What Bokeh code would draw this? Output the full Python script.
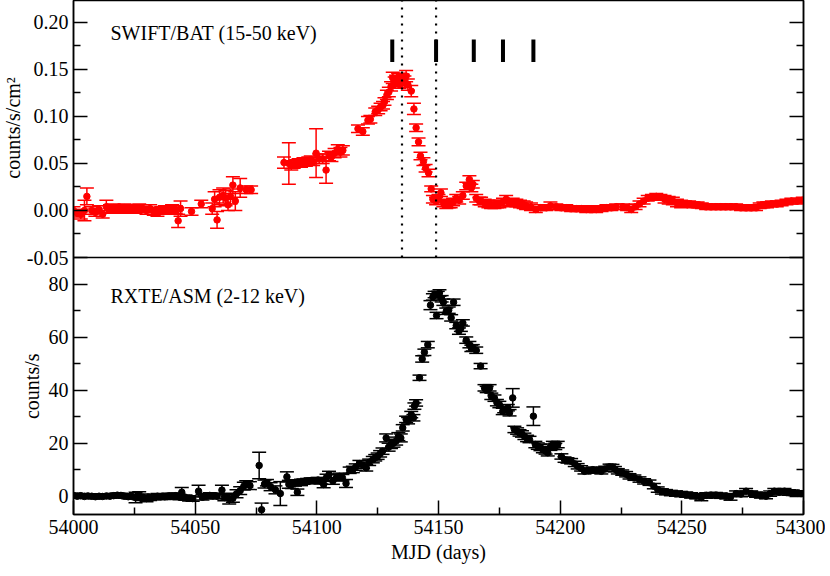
from math import pi
from bokeh.plotting import figure
from bokeh.models import (Range1d, FixedTicker, LinearAxis, Whisker, TeeHead,
                          ColumnDataSource, Span, Label, CustomJSTickFormatter)
from bokeh.embed import file_html
from bokeh.resources import INLINE

FONT = "Liberation Serif"

# ---------------- SWIFT/BAT (15-50 keV) ----------------
bat_mjd = [54000, 54001.5, 54003, 54004.5, 54005.5, 54007.5, 54009, 54010.5, 54012, 54013.5,
           54015, 54016.5, 54018, 54019.5, 54021, 54022.5, 54024, 54025.5, 54027, 54028.5,
           54030, 54031.5, 54033, 54034.5, 54036, 54037.5, 54039, 54040.5, 54042, 54043,
           54044, 54048.5, 54052.5, 54057, 54058, 54059, 54060, 54061.5, 54062.5, 54063.5,
           54064.5, 54065.5, 54066.5, 54068.5, 54071, 54073,
           54086.5, 54088.5, 54089.5, 54090.5, 54091.5, 54092.5, 54093.5, 54094.5, 54095.5, 54096.5,
           54097.5, 54098.5, 54099.7, 54101, 54102.4, 54103.8, 54105, 54106, 54107.3, 54108.6,
           54109.7, 54110.7,
           54116.9, 54118.9, 54121, 54122, 54124, 54125.2, 54126.2, 54127.2, 54127.8, 54128.8,
           54129.6, 54130.5, 54131.2, 54132, 54132.6, 54133.4, 54134, 54135.3, 54136, 54136.7,
           54137.4, 54138.8, 54139.9, 54140.8, 54141.8, 54142.6, 54143.8, 54144.7, 54145.9, 54147,
           54147.7, 54149, 54150, 54151, 54152, 54153.2, 54154.2, 54155, 54156, 54157.3,
           54158.5, 54160, 54161.4, 54162.7, 54163.5, 54164.1, 54165.5, 54166.8, 54167.5, 54169,
           54170.5, 54171.6, 54173, 54174, 54175, 54176.5, 54177.8, 54179, 54180.5, 54182,
           54183.5, 54185, 54186, 54188, 54190, 54192, 54194.3, 54196, 54198.4, 54200.5,
           54202.5, 54204.5, 54206.6, 54208.7, 54210.7, 54212.7, 54214.8, 54217, 54219, 54221,
           54223, 54225.8, 54227.5, 54229.2, 54231, 54232.6, 54234.3, 54236, 54237.7, 54239.5,
           54241.2, 54242.9, 54244.6, 54246.3, 54248, 54249.7, 54251.4, 54253, 54254.8, 54256.5,
           54258.2, 54260, 54262, 54264, 54266, 54268, 54270, 54272.3, 54274.3, 54276.4,
           54278.5, 54280.5, 54282, 54283.5, 54285, 54287, 54289, 54291, 54293, 54295,
           54297.5, 54299.7]
bat_rate = [0.000, -0.003, -0.004, 0.000, 0.015, 0.000, -0.002, 0.001, -0.004, 0.004,
            0.002, 0.003, 0.001, 0.002, 0.003, 0.001, 0.002, 0.001, 0.003, 0.002,
            0.000, 0.002, -0.001, -0.002, 0.000, 0.001, 0.000, 0.002, 0.001, -0.011,
            0.002, -0.001, 0.007, 0.002, 0.012, -0.010, 0.014, 0.016, 0.013, 0.006,
            0.015, 0.027, 0.010, 0.024, 0.022, 0.022,
            0.051, 0.050, 0.048, 0.049, 0.050, 0.051, 0.050, 0.052, 0.051, 0.053,
            0.054, 0.052, 0.061, 0.055, 0.055, 0.043, 0.058, 0.057, 0.061, 0.065,
            0.062, 0.064,
            0.087, 0.084, 0.096, 0.097, 0.105, 0.107, 0.110, 0.112, 0.116, 0.123,
            0.126, 0.132, 0.141, 0.136, 0.138, 0.140, 0.136, 0.139, 0.137, 0.143,
            0.134, 0.127, 0.108, 0.088, 0.073, 0.058, 0.052, 0.045, 0.040, 0.023,
            0.012, 0.010, 0.013, 0.019, 0.008, 0.006, 0.007, 0.007, 0.009, 0.013,
            0.011, 0.016, 0.026, 0.033, 0.024, 0.028, 0.013, 0.010, 0.010, 0.008,
            0.007, 0.006, 0.006, 0.007, 0.007, 0.009, 0.012, 0.008, 0.009, 0.008,
            0.007, 0.006, 0.005, 0.004, 0.001, 0.003, 0.003, 0.005, 0.004, 0.003,
            0.003, 0.002, 0.002, 0.002, 0.001, 0.002, 0.001, 0.002, 0.003, 0.003,
            0.004, 0.004, 0.003, 0.001, 0.004, 0.007, 0.010, 0.013, 0.014, 0.015,
            0.014, 0.012, 0.011, 0.010, 0.008, 0.007, 0.007, 0.007, 0.006, 0.006,
            0.005, 0.004, 0.004, 0.004, 0.004, 0.004, 0.004, 0.004, 0.003, 0.003,
            0.003, 0.003, 0.005, 0.006, 0.006, 0.007, 0.007, 0.008, 0.009, 0.010,
            0.010, 0.011]
bat_err = [0.004, 0.004, 0.005, 0.011, 0.009, 0.004, 0.004, 0.004, 0.004, 0.007,
           0.004, 0.004, 0.004, 0.004, 0.004, 0.004, 0.004, 0.004, 0.004, 0.004,
           0.004, 0.004, 0.004, 0.004, 0.004, 0.004, 0.004, 0.004, 0.004, 0.007,
           0.008, 0.004, 0.004, 0.006, 0.008, 0.009, 0.008, 0.008, 0.008, 0.006,
           0.008, 0.009, 0.010, 0.010, 0.004, 0.004,
           0.006, 0.022, 0.005, 0.004, 0.004, 0.004, 0.004, 0.004, 0.004, 0.004,
           0.004, 0.004, 0.026, 0.005, 0.005, 0.014, 0.005, 0.005, 0.005, 0.005,
           0.005, 0.005,
           0.004, 0.004, 0.004, 0.004, 0.004, 0.004, 0.004, 0.004, 0.004, 0.005,
           0.005, 0.005, 0.006, 0.006, 0.006, 0.006, 0.006, 0.006, 0.006, 0.006,
           0.006, 0.006, 0.006, 0.004, 0.004, 0.004, 0.004, 0.004, 0.004, 0.003,
           0.004, 0.004, 0.004, 0.004, 0.004, 0.004, 0.004, 0.004, 0.004, 0.004,
           0.004, 0.004, 0.004, 0.004, 0.004, 0.004, 0.004, 0.004, 0.004, 0.004,
           0.004, 0.004, 0.004, 0.004, 0.004, 0.004, 0.004, 0.004, 0.004, 0.004,
           0.004, 0.004, 0.004, 0.004, 0.003, 0.003, 0.003, 0.004, 0.003, 0.003,
           0.003, 0.003, 0.003, 0.003, 0.003, 0.003, 0.003, 0.003, 0.003, 0.003,
           0.003, 0.003, 0.003, 0.003, 0.003, 0.003, 0.003, 0.003, 0.003, 0.003,
           0.003, 0.004, 0.004, 0.004, 0.004, 0.004, 0.003, 0.003, 0.003, 0.003,
           0.003, 0.003, 0.003, 0.003, 0.003, 0.003, 0.003, 0.003, 0.003, 0.003,
           0.003, 0.003, 0.003, 0.003, 0.003, 0.003, 0.003, 0.003, 0.003, 0.003,
           0.003, 0.003]

# ---------------- RXTE/ASM (2-12 keV) ----------------
asm_mjd = [54000, 54001.5, 54003, 54004.5, 54006, 54007.5, 54009, 54010.5, 54012, 54013.5,
           54015, 54016.5, 54018, 54019.5, 54021, 54022.5, 54024, 54025.5, 54027, 54028.5,
           54030, 54031.5, 54033, 54034.5, 54036, 54037.5, 54039, 54040.5, 54042, 54043.5,
           54044.5, 54046, 54047.5, 54049, 54051.4, 54053, 54054.5, 54056, 54057.5, 54059,
           54061, 54062, 54063, 54064, 54065.5, 54067, 54068.5, 54070, 54071, 54072.5,
           54076.3, 54077.3, 54078.5, 54079.5, 54081, 54083, 54085, 54087.7, 54088.5, 54089.7,
           54091, 54092, 54093.5, 54094.5, 54096, 54097.5, 54099, 54100.5, 54101.8, 54102.8,
           54104, 54105, 54106.6, 54108, 54109.3, 54110.5, 54112, 54113.5, 54114.8, 54116,
           54117.5, 54119, 54120.3, 54121.5, 54123, 54124, 54125, 54126, 54127, 54128.5,
           54129.5, 54130.5, 54131.5, 54132.6, 54133.5, 54134.5, 54135.3, 54136.7, 54137.5, 54138.8,
           54139.7, 54140.1, 54140.8, 54142.2, 54143.3, 54144.2, 54145.6, 54146.7, 54147.7, 54148.4,
           54149.2, 54149.7, 54150.4, 54151.3, 54152, 54153.2, 54154.2, 54155.2, 54156.2, 54157.3,
           54158.4, 54159.2, 54160, 54161.4, 54162.7, 54163.5, 54164.1, 54165.5, 54167.3, 54168.9,
           54169.8, 54171, 54171.7, 54173, 54174, 54175, 54176.4, 54177, 54178.5, 54179.2,
           54180.5, 54181.2, 54182.3, 54183.3, 54184.3, 54185.3, 54186.4, 54187.4, 54189, 54189.8,
           54190.8, 54191.9, 54192.9, 54194, 54194.9, 54196, 54197, 54198, 54199, 54200.5,
           54201.8, 54203, 54204.5, 54206, 54207.2, 54208.6, 54210, 54211.7, 54213.4, 54215,
           54216.9, 54218.5, 54220.3, 54221.5, 54222.5, 54223.7, 54225.5, 54227.1, 54228.5, 54230.5,
           54232.6, 54234.5, 54236.7, 54238.5, 54240.1, 54241.8, 54243.5, 54245.5, 54247.6, 54249.7,
           54251.8, 54253.8, 54255.9, 54258, 54260, 54262, 54264, 54266, 54268.2, 54270,
           54272.3, 54274.3, 54276.4, 54278.5, 54280.5, 54282.5, 54284.6, 54286.3, 54288, 54290,
           54292.2, 54294, 54295.6, 54297.5, 54299]
asm_rate = [0.3, 0.0, 0.2, -0.1, 0.1, 0.0, -0.2, 0.0, -0.1, 0.1,
            0.0, 0.2, 0.4, 0.3, 0.0, -0.2, -0.1, -0.5, 0.2, -0.4,
            -0.9, -0.6, -0.3, 0.0, -0.2, -0.2, 0.1, 0.0, 0.2, -0.3,
            1.5, -0.5, -0.8, -0.9, 1.9, -0.4, 0.0, 0.3, 0.1, 0.0,
            2.3, -0.5, -0.3, -0.9, -0.8, 0.9, 2.1, 3.8, 4.6, 4.0,
            11.6, -5.1, 4.6, 5.1, 3.6, 2.4, 1.0, 7.3, 4.5, 4.4,
            5.0, 1.5, 5.2, 5.5, 5.7, 5.9, 5.8, 6.1, 5.6, 4.4,
            7.1, 8.2, 5.7, 7.0, 7.5, 7.0, 4.8, 9.8, 10.1, 11.0,
            12.3, 11.7, 10.7, 12.8, 13.8, 14.5, 15.1, 16.0, 17.0, 22.0,
            18.5, 19.5, 20.0, 20.8, 22.5, 22.0, 25.8, 29.0, 28.5, 30.8,
            29.6, 34.0, 35.2, 44.7, 51.8, 54.3, 57.2, 72.1, 75.2, 76.1,
            68.2, 76.1, 76.7, 74.5, 73.2, 69.8, 70.2, 67.3, 73.2, 64.4,
            62.3, 63.4, 65.4, 58.9, 57.2, 55.8, 56.0, 55.1, 49.1, 40.9,
            40.3, 40.9, 37.7, 37.0, 35.3, 34.6, 32.0, 32.7, 33.4, 31.5,
            37.1, 25.2, 24.6, 23.9, 23.5, 22.6, 21.8, 21.4, 30.2, 19.5,
            18.9, 18.4, 17.6, 17.1, 16.4, 18.5, 19.5, 18.8, 19.5, 15.0,
            13.8, 13.5, 13.2, 12.2, 11.3, 10.5, 9.4, 9.7, 10.0, 9.8,
            9.4, 10.3, 11.1, 11.0, 10.2, 9.4, 8.9, 8.3, 7.5, 7.0,
            6.3, 5.6, 5.1, 3.8, 2.5, 1.8, 1.5, 1.2, 1.0, 0.8,
            0.6, 0.3, 0.0, -0.5, 0.3, 0.4, 0.4, 0.2, 0.0, -0.3,
            1.0, 0.8, 1.9, 1.0, 0.6, 0.3, 0.0, 1.0, 1.9, 1.5,
            1.9, 1.4, 1.3, 1.1, 1.0]
asm_err = [0.8, 0.8, 0.8, 0.8, 0.8, 0.8, 0.8, 0.8, 0.8, 0.8,
           0.8, 0.8, 0.8, 0.8, 0.8, 0.8, 0.8, 2.0, 1.5, 1.2,
           1.2, 1.0, 1.0, 1.0, 1.0, 1.0, 1.0, 1.0, 1.0, 1.0,
           1.8, 1.0, 1.0, 1.0, 2.2, 1.0, 1.0, 1.0, 1.0, 1.0,
           1.8, 1.2, 1.2, 2.0, 1.5, 1.5, 1.5, 1.5, 1.2, 1.5,
           5.0, 2.5, 1.5, 1.2, 1.5, 1.5, 4.5, 1.9, 1.5, 1.5,
           1.2, 1.2, 1.2, 1.0, 1.0, 1.0, 1.0, 1.0, 1.0, 1.2,
           1.2, 1.2, 1.2, 1.2, 1.2, 1.2, 1.5, 1.2, 1.2, 1.2,
           1.2, 1.2, 1.2, 1.2, 1.2, 1.2, 1.2, 1.2, 1.2, 1.5,
           1.5, 1.5, 1.5, 1.5, 1.5, 1.5, 1.2, 1.2, 1.2, 1.2,
           1.2, 1.2, 1.2, 1.0, 1.2, 1.2, 1.2, 1.7, 1.2, 1.2,
           1.2, 1.2, 1.2, 1.2, 1.2, 1.2, 1.2, 1.2, 1.2, 1.2,
           1.2, 1.2, 1.2, 1.2, 1.2, 1.2, 1.2, 1.2, 1.0, 1.2,
           1.2, 1.2, 1.2, 1.2, 1.2, 1.2, 1.2, 1.2, 1.2, 1.2,
           3.5, 1.2, 1.2, 1.2, 1.2, 1.2, 1.2, 1.2, 3.5, 1.2,
           1.2, 1.2, 1.2, 1.2, 1.2, 1.2, 1.2, 1.2, 1.2, 1.0,
           1.0, 1.0, 1.0, 1.0, 1.0, 1.0, 1.0, 1.0, 1.0, 1.0,
           1.0, 1.0, 1.0, 1.0, 1.0, 1.0, 1.0, 1.0, 1.0, 1.0,
           1.0, 1.0, 1.0, 1.0, 1.0, 1.0, 1.0, 1.0, 1.0, 1.0,
           1.0, 1.0, 1.0, 1.2, 1.0, 1.0, 1.0, 1.0, 1.0, 1.2,
           1.0, 1.0, 1.0, 1.0, 1.0, 1.0, 1.0, 1.0, 1.0, 1.0,
           1.0, 1.0, 1.0, 1.0, 1.0]

# ---------------- annotations ----------------
event_mjd = [54135, 54149]                         # dotted vertical lines
obs_mjd = [54131, 54149, 54164.5, 54176.5, 54189]  # black observation bars
obs_lo = [0.158] * len(obs_mjd)
obs_hi = [0.182] * len(obs_mjd)

x_ticks = [54000, 54050, 54100, 54150, 54200, 54250, 54300]
x_minor = [54025, 54075, 54125, 54175, 54225, 54275]
bat_ticks = [-0.05, 0.0, 0.05, 0.10, 0.15, 0.20]
bat_minor = [-0.025, 0.025, 0.075, 0.125, 0.175]
asm_ticks = [0, 20, 40, 60, 80]
asm_minor = [10, 30, 50, 70]

# panel limits (data units) and panel heights (px)
X_LO, X_HI = 54000, 54300
BAT_LO, BAT_HI = -0.05, 0.2234
ASM_LO, ASM_HI = -6.9, 90.08
H_TOP, H_BOT = 257, 257

# one frame holds both panels: ASM in the lower part, BAT in the upper part
ASM_TOP = ASM_HI + (ASM_HI - ASM_LO) * H_TOP / H_BOT
K = (ASM_TOP - ASM_HI) / (BAT_HI - BAT_LO)          # ASM units per BAT unit
asm_full = Range1d(ASM_LO, ASM_TOP)
bat_full = Range1d(BAT_LO - (ASM_HI - ASM_LO) / K, BAT_HI)


def bat_pos(v):
    """position of a BAT value on the shared left/right axes"""
    return ASM_HI + (v - BAT_LO) * K


y_major = asm_ticks + [bat_pos(v) for v in bat_ticks]
y_minor = asm_minor + [bat_pos(v) for v in bat_minor]

p = figure(frame_width=730, frame_height=H_TOP + H_BOT,
           x_range=Range1d(X_LO, X_HI), y_range=asm_full,
           output_backend="svg", toolbar_location=None, title=None,
           x_axis_location=None, y_axis_location=None,
           min_border_left=73, min_border_right=10,
           min_border_top=0, min_border_bottom=4)
p.extra_y_ranges = {"bat": bat_full}
p.grid.visible = False
p.outline_line_color = "black"
p.outline_line_width = 1.5
p.background_fill_color = "white"
p.border_fill_color = "white"

blank = CustomJSTickFormatter(code="return ''")
split_fmt = CustomJSTickFormatter(
    args=dict(asm_hi=ASM_HI, bat_lo=BAT_LO, k=K),
    code="""
    if (tick >= asm_hi - 1e-6) {
        let v = bat_lo + (tick - asm_hi) / k;
        if (Math.abs(v) < 1e-9) { v = 0; }
        return v.toFixed(2);
    }
    return tick.toFixed(0);
    """)


def style_axis(ax, show_labels=True):
    ax.axis_line_color = "black"
    ax.axis_line_width = 1.5
    ax.major_tick_in = 14
    ax.major_tick_out = 0
    ax.minor_tick_in = 7
    ax.minor_tick_out = 0
    ax.major_tick_line_color = "black"
    ax.minor_tick_line_color = "black"
    ax.major_tick_line_width = 1.5
    ax.minor_tick_line_width = 1.5
    ax.major_label_text_font = FONT
    ax.major_label_text_font_size = "20px"
    ax.major_label_text_color = "black"
    ax.axis_label_text_font = FONT
    ax.axis_label_text_font_style = "normal"
    ax.axis_label_text_font_size = "20px"
    ax.axis_label_text_color = "black"
    ax.major_label_standoff = 5 if show_labels else 0


# bottom x axis
ax_x = LinearAxis(ticker=FixedTicker(ticks=x_ticks, minor_ticks=x_minor),
                  axis_label="MJD (days)")
style_axis(ax_x)
ax_x.major_label_standoff = 5
ax_x.axis_label_standoff = 4
p.add_layout(ax_x, "below")

# shared left / right axes (ticks and tick labels of both panels)
ax_l = LinearAxis(ticker=FixedTicker(ticks=y_major, minor_ticks=y_minor),
                  formatter=split_fmt)
style_axis(ax_l)
p.add_layout(ax_l, "left")
ax_r = LinearAxis(ticker=FixedTicker(ticks=y_major, minor_ticks=y_minor),
                  formatter=blank)
style_axis(ax_r, show_labels=False)
p.add_layout(ax_r, "right")

# y titles of the two panels; both are drawn left of the frame at their data
# position (one is hosted by the right border so that the left border stays narrow)
p.add_layout(Label(x=53975.1, y=0.0878, y_range_name="bat",
                   text="counts/s/cm\u00b2", angle=pi / 2, text_align="center",
                   text_baseline="alphabetic", text_font=FONT,
                   text_font_size="20px", text_color="black"), "left")
p.add_layout(Label(x=53983.1, y=41.5, text="counts/s", angle=pi / 2,
                   text_align="center", text_baseline="alphabetic",
                   text_font=FONT, text_font_size="20px", text_color="black"), "right")

# divider between panels
p.add_layout(Span(location=BAT_LO, y_range_name="bat", dimension="width",
                  line_color="black", line_width=1.5))

# BAT data
red = "#ff0000"
bat_src = ColumnDataSource(dict(
    x=bat_mjd, y=bat_rate,
    lo=[r - e for r, e in zip(bat_rate, bat_err)],
    hi=[r + e for r, e in zip(bat_rate, bat_err)]))
p.add_layout(Whisker(source=bat_src, base="x", lower="lo", upper="hi",
                     y_range_name="bat", line_color=red, line_width=1.5,
                     lower_head=TeeHead(size=14, line_color=red, line_width=1.5),
                     upper_head=TeeHead(size=14, line_color=red, line_width=1.5)))
p.scatter("x", "y", source=bat_src, y_range_name="bat", size=6.5,
          color=red, line_color=red)

# event lines and observation bars (upper panel only)
p.segment(x0=event_mjd, y0=[BAT_LO] * len(event_mjd),
          x1=event_mjd, y1=[BAT_HI] * len(event_mjd), y_range_name="bat",
          line_color="black", line_width=2.2, line_dash="2 6")
p.segment(x0=obs_mjd, y0=obs_lo, x1=obs_mjd, y1=obs_hi, y_range_name="bat",
          line_color="black", line_width=4)
p.add_layout(Label(x=54015.2, y=0.1883, y_range_name="bat",
                   text="SWIFT/BAT (15-50 keV)", text_font=FONT,
                   text_font_size="20px", text_color="black",
                   text_baseline="middle"))

# ASM data
asm_src = ColumnDataSource(dict(
    x=asm_mjd, y=asm_rate,
    lo=[r - e for r, e in zip(asm_rate, asm_err)],
    hi=[r + e for r, e in zip(asm_rate, asm_err)]))
p.add_layout(Whisker(source=asm_src, base="x", lower="lo", upper="hi",
                     line_color="black", line_width=1.5,
                     lower_head=TeeHead(size=14, line_color="black", line_width=1.5),
                     upper_head=TeeHead(size=14, line_color="black", line_width=1.5)))
p.scatter("x", "y", source=asm_src, size=6.5, color="black")
p.add_layout(Label(x=54015.2, y=75.4, text="RXTE/ASM (2-12 keV)",
                   text_font=FONT, text_font_size="20px", text_color="black",
                   text_baseline="middle"))

open("out.html", "w").write(file_html(p, INLINE))
